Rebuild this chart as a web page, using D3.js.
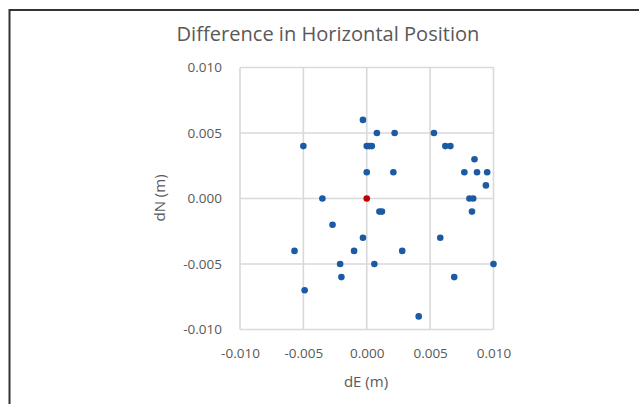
<!DOCTYPE html>
<html>
<head>
<meta charset="utf-8">
<script src="https://cdn.jsdelivr.net/npm/d3@7"></script>
<style>
  body { margin: 0; background: #fff; }
  text { font-family: "Open Sans", "Liberation Sans", sans-serif; fill: #595959; }
</style>
</head>
<body>
<div id="chart"></div>
<script>
// dE / dN differences (m)
var dE = [-0.0003, -0.005, 0.0000, 0.0002, 0.0004, 0.0008, 0.0022, 0.0053,
          0.0062, 0.0066, 0.0085, 0.0000, 0.0021, 0.0077, 0.0087, 0.0095,
          0.0094, -0.0035, 0.0081, 0.0084, 0.0010, 0.0012, 0.0083, -0.0027,
          -0.0003, 0.0058, -0.0057, -0.0010, 0.0028, -0.0021, 0.0006, 0.0100,
          -0.0020, 0.0069, -0.0049, 0.0041];
var dN = [0.006, 0.004, 0.004, 0.004, 0.004, 0.005, 0.005, 0.005,
          0.004, 0.004, 0.003, 0.002, 0.002, 0.002, 0.002, 0.002,
          0.001, 0.000, 0.000, 0.000, -0.001, -0.001, -0.001, -0.002,
          -0.003, -0.003, -0.004, -0.004, -0.004, -0.005, -0.005, -0.005,
          -0.006, -0.006, -0.007, -0.009];
var refPoint = [0, 0];
var ticks = [-0.010, -0.005, 0.000, 0.005, 0.010];

var width = 639, height = 404;
var svg = d3.select("#chart").append("svg")
    .attr("width", width)
    .attr("height", height);

// figure frame (only top and left edges visible)
svg.append("path")
    .attr("d", "M9.5,404 L9.5,10 L639,10")
    .attr("fill", "none")
    .attr("stroke", "#333")
    .attr("stroke-width", 2);

var x = d3.scaleLinear().domain([-0.01, 0.01]).range([240, 493.5]);
var y = d3.scaleLinear().domain([-0.01, 0.01]).range([329.5, 67.5]);

var grid = svg.append("g").attr("stroke", "#d9d9d9").attr("stroke-width", 1.6);
grid.selectAll("line.v").data(ticks).enter().append("line")
    .attr("x1", d => x(d)).attr("x2", d => x(d))
    .attr("y1", y(0.01)).attr("y2", y(-0.01));
grid.selectAll("line.h").data(ticks).enter().append("line")
    .attr("y1", d => y(d)).attr("y2", d => y(d))
    .attr("x1", x(-0.01)).attr("x2", x(0.01));

var fmt = d => d3.format(".3f")(d).replace("−", "-");

var xAxis = svg.append("g")
    .attr("transform", "translate(0," + (y(-0.01) + 16) + ")")
    .call(d3.axisBottom(x).tickValues(ticks).tickFormat(fmt).tickSize(0));
xAxis.select(".domain").remove();
xAxis.selectAll("text").attr("font-size", 13.5).attr("dy", "0.71em");

var yAxis = svg.append("g")
    .attr("transform", "translate(" + (x(-0.01) - 15) + ",0)")
    .call(d3.axisLeft(y).tickValues(ticks).tickFormat(fmt).tickSize(0));
yAxis.select(".domain").remove();
yAxis.selectAll("text").attr("font-size", 13.5);

var pts = d3.range(dE.length).map(i => ({ e: dE[i], n: dN[i] }));
svg.append("g").selectAll("circle")
    .data(pts).enter().append("circle")
    .attr("cx", d => x(d.e))
    .attr("cy", d => y(d.n))
    .attr("r", 3.3)
    .attr("fill", "#1c5ba3");

svg.append("circle")
    .attr("cx", x(refPoint[0]))
    .attr("cy", y(refPoint[1]))
    .attr("r", 3.3)
    .attr("fill", "#c00000");

var title = svg.append("text")
    .attr("x", 328).attr("y", 41)
    .attr("text-anchor", "middle")
    .attr("font-size", 18)
    .text("Difference in Horizontal Position");
// fit title to the width seen in the picture
var tw = title.node().getComputedTextLength();
title.attr("font-size", 18 * 303 / tw);

svg.append("text")
    .attr("x", 366).attr("y", 387)
    .attr("text-anchor", "middle")
    .attr("font-size", 15)
    .text("dE (m)");

svg.append("text")
    .attr("transform", "translate(165,198) rotate(-90)")
    .attr("text-anchor", "middle")
    .attr("font-size", 15)
    .text("dN (m)");
</script>
</body>
</html>
